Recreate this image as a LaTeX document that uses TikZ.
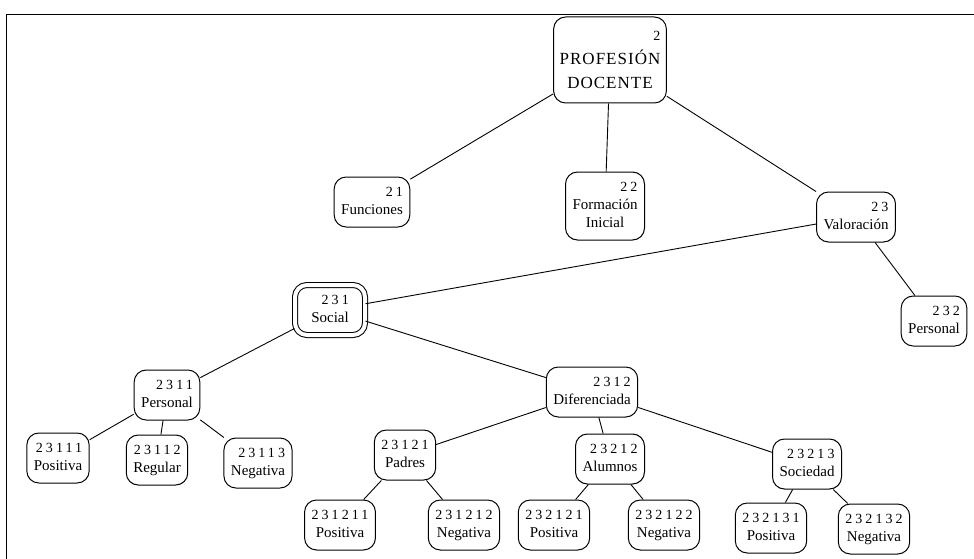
\documentclass[tikz,border=0pt]{standalone}
\usepackage{fontspec}
\setmainfont{Liberation Serif}
\usetikzlibrary{positioning}

\newcommand{\codnum}[1]{{\fontsize{14}{16}\selectfont\addfontfeature{LetterSpace=22}#1}}
\newcommand{\cat}[2]{\begin{tabular}{@{}c@{}}\hfill\codnum{#1}\\#2\end{tabular}}

\tikzset{
  box/.style={draw, rounded corners=12pt, line width=1pt, inner xsep=7pt, inner ysep=7pt,
    font=\fontsize{15}{18}\selectfont},
  soc/.style={box, double, double distance=4pt, minimum width=70pt, minimum height=50pt, inner ysep=4pt},
  link/.style={line width=0.9pt}
}

\begin{document}
\begin{tikzpicture}[x=1pt, y=-1pt]
        \useasboundingbox (0,0) rectangle (974,559);
        \draw[line width=0.9pt] (6,559) -- (6,14) -- (974,14);

        \node[box, font=\fontsize{17}{24}\selectfont\addfontfeature{LetterSpace=6}, inner xsep=6pt, inner ysep=7pt] (prof) at (610,60)
            {\begin{tabular}{@{}c@{}}\hfill\codnum{2}\\PROFESIÓN\\DOCENTE\end{tabular}};

        \node[box] (fun) at (372,202) {\cat{21}{Funciones}};
        \node[box] (form) at (605,206) {\cat{22}{Formación\\Inicial}};
        \node[box] (val) at (856,217) {\cat{23}{Valoración}};

        \node[soc] (soc) at (330,310) {\cat{231}{Social}};
        \node[box] (pers) at (934,321) {\cat{232}{Personal}};

        \node[box] (per) at (167,395) {\cat{2311}{Personal}};
        \node[box] (dif) at (592,392) {\cat{2312}{Diferenciada}};

        \node[box] (pos1) at (58,458) {\cat{23111}{Positiva}};
        \node[box] (reg1) at (157,460) {\cat{23112}{Regular}};
        \node[box] (neg1) at (258,463) {\cat{23113}{Negativa}};

        \node[box] (pad) at (405,455) {\cat{23121}{Padres}};
        \node[box] (alu) at (610,459) {\cat{23212}{Alumnos}};
        \node[box] (soci) at (807,464) {\cat{23213}{Sociedad}};

        \node[box] (pos2) at (340,525) {\cat{231211}{Positiva}};
        \node[box] (neg2) at (464,525) {\cat{231212}{Negativa}};
        \node[box] (pos3) at (554,525) {\cat{232121}{Positiva}};
        \node[box] (neg3) at (664,525) {\cat{232122}{Negativa}};
        \node[box] (pos4) at (771,528) {\cat{232131}{Positiva}};
        \node[box] (neg4) at (874,529) {\cat{232132}{Negativa}};

        \draw[link] (prof) -- (fun);
        \draw[link] (prof) -- (form);
        \draw[link] (prof) -- (val);
        \draw[link] (val) -- (soc);
        \draw[link] (val) -- (pers);
        \draw[link] (soc) -- (per);
        \draw[link] (soc) -- (dif);
        \draw[link] (per) -- (pos1);
        \draw[link] (per) -- (reg1);
        \draw[link] (per) -- (neg1);
        \draw[link] (dif) -- (pad);
        \draw[link] (dif) -- (alu);
        \draw[link] (dif) -- (soci);
        \draw[link] (pad) -- (pos2);
        \draw[link] (pad) -- (neg2);
        \draw[link] (alu) -- (pos3);
        \draw[link] (alu) -- (neg3);
        \draw[link] (soci) -- (pos4);
        \draw[link] (soci) -- (neg4);
\end{tikzpicture}
\end{document}
